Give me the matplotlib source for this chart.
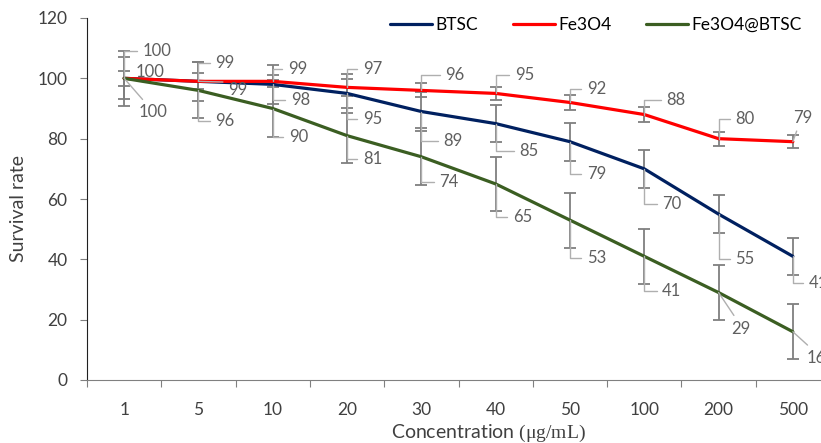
import matplotlib
matplotlib.use("Agg")
import matplotlib.pyplot as plt
import numpy as np

plt.rcParams["font.family"] = ["Lato", "DejaVu Sans"]
plt.rcParams["mathtext.fontset"] = "custom"
plt.rcParams["mathtext.rm"] = "Liberation Serif"

concentrations = ["1", "5", "10", "20", "30", "40", "50", "100", "200", "500"]
btsc = [100, 99, 98, 95, 89, 85, 79, 70, 55, 41]
fe3o4 = [100, 99, 99, 97, 96, 95, 92, 88, 80, 79]
fe3o4_btsc = [100, 96, 90, 81, 74, 65, 53, 41, 29, 16]
btsc_err = [7.0, 6.5, 6.5, 6.4, 6.4, 6.2, 6.3, 6.3, 6.2, 6.2]
fe3o4_err = [2.5, 2.7, 2.0, 2.7, 2.3, 2.2, 2.5, 2.4, 2.3, 2.2]
fe3o4_btsc_err = [9.2, 9.3, 9.5, 9.2, 9.4, 9.0, 9.1, 9.2, 9.2, 9.2]

# label offsets in pixels (dx to left edge of text, dy up), leader style
fe3o4_lab = [(18, 27, "angle"), (17, 18, "angle"), (15, 12, "angle"), (16, 18, "angle"),
             (24, 15, "angle"), (19, 18, "angle"), (17, 13, "angle"), (22, 15, "angle"),
             (17, 20, "angle"), (0, 24, "line")]
btsc_lab = [(11, 6, "none"), (30, -9, "line"), (18, -16, "angle"), (16, -26, "angle"),
            (22, -29, "angle"), (24, -27, "angle"), (17, -32, "angle"), (18, -35, "angle"),
            (17, -45, "angle"), (16, -27, "angle")]
fe3o4_btsc_lab = [(14, -34, "line"), (17, -31, "angle"), (16, -28, "angle"), (16, -23, "angle"),
                  (18, -25, "angle"), (17, -33, "angle"), (17, -38, "angle"), (18, -35, "angle"),
                  (13, -36, "line"), (14, -26, "line")]

series = [
    ("BTSC", btsc, btsc_err, btsc_lab, "#002060"),
    ("Fe3O4", fe3o4, fe3o4_err, fe3o4_lab, "#FF0000"),
    ("Fe3O4@BTSC", fe3o4_btsc, fe3o4_btsc_err, fe3o4_btsc_lab, "#3B5E22"),
]

fig = plt.figure(figsize=(8.21, 4.43), dpi=100)
ax = fig.add_axes([87 / 821, 1 - 380 / 443, 743 / 821, 362 / 443])
x = np.arange(len(concentrations))

for name, vals, err, labs, col in series:
    ax.errorbar(x, vals, yerr=err, fmt="none", ecolor="#7F7F7F", elinewidth=1.3,
                capsize=4, capthick=1.3, zorder=2)

for name, vals, err, labs, col in series:
    ax.plot(x, vals, color=col, lw=2.3, label=name, zorder=3, solid_capstyle="round")

for name, vals, err, labs, col in series:
    for i, v in enumerate(vals):
        dx, dy, style = labs[i]
        if style == "none":
            arrow = None
        elif style == "angle":
            arrow = dict(arrowstyle="-", color="#AFAFAF", lw=1,
                         connectionstyle="angle,angleA=0,angleB=90,rad=0",
                         relpos=(0, 0.5), shrinkA=2, shrinkB=0)
        else:
            arrow = dict(arrowstyle="-", color="#AFAFAF", lw=1,
                         connectionstyle="arc3", relpos=(0.3, 1 if dy < 0 else 0),
                         shrinkA=2, shrinkB=0)
        ax.annotate(str(v), xy=(i, v), xytext=(dx, dy), textcoords="offset pixels",
                    ha="left", va="center", fontsize=12, color="#5F5F5F",
                    arrowprops=arrow, zorder=4, annotation_clip=False)

ax.set_xlim(-0.5, len(concentrations) - 0.5)
ax.set_ylim(0, 120)
ax.set_yticks(np.arange(0, 121, 20))
ax.set_xticks(np.arange(-0.5, len(concentrations), 1))
ax.set_xticklabels([])
ax.set_xticks(x, minor=True)
ax.set_xticklabels(concentrations, minor=True)
ax.tick_params(axis="x", which="major", length=5, direction="out", color="#808080")
ax.tick_params(axis="x", which="minor", length=0, pad=16, labelsize=12.5, labelcolor="#404040")
ax.tick_params(axis="y", length=5, direction="out", pad=9, labelsize=12.5,
               labelcolor="#404040", color="#808080")
for s in ["top", "right"]:
    ax.spines[s].set_visible(False)
ax.spines["left"].set_color("#202020")
ax.spines["bottom"].set_color("#808080")

fig.text(18 / 821, 1 - 209 / 443, "Survival rate", rotation=90, ha="center", va="center",
         fontsize=14, color="#404040")
fig.text(488 / 821, 1 - 433 / 443, "Concentration $\\mathrm{(\u03bcg/mL)}$", ha="center",
         va="center", fontsize=14, color="#404040")

fig.legend(loc="center", bbox_to_anchor=(596 / 821, 1 - 25 / 443), ncol=3, frameon=False,
           fontsize=12.5, handlelength=2.4, handletextpad=0.2, columnspacing=2.0)

fig.savefig("out.png", dpi=100)
